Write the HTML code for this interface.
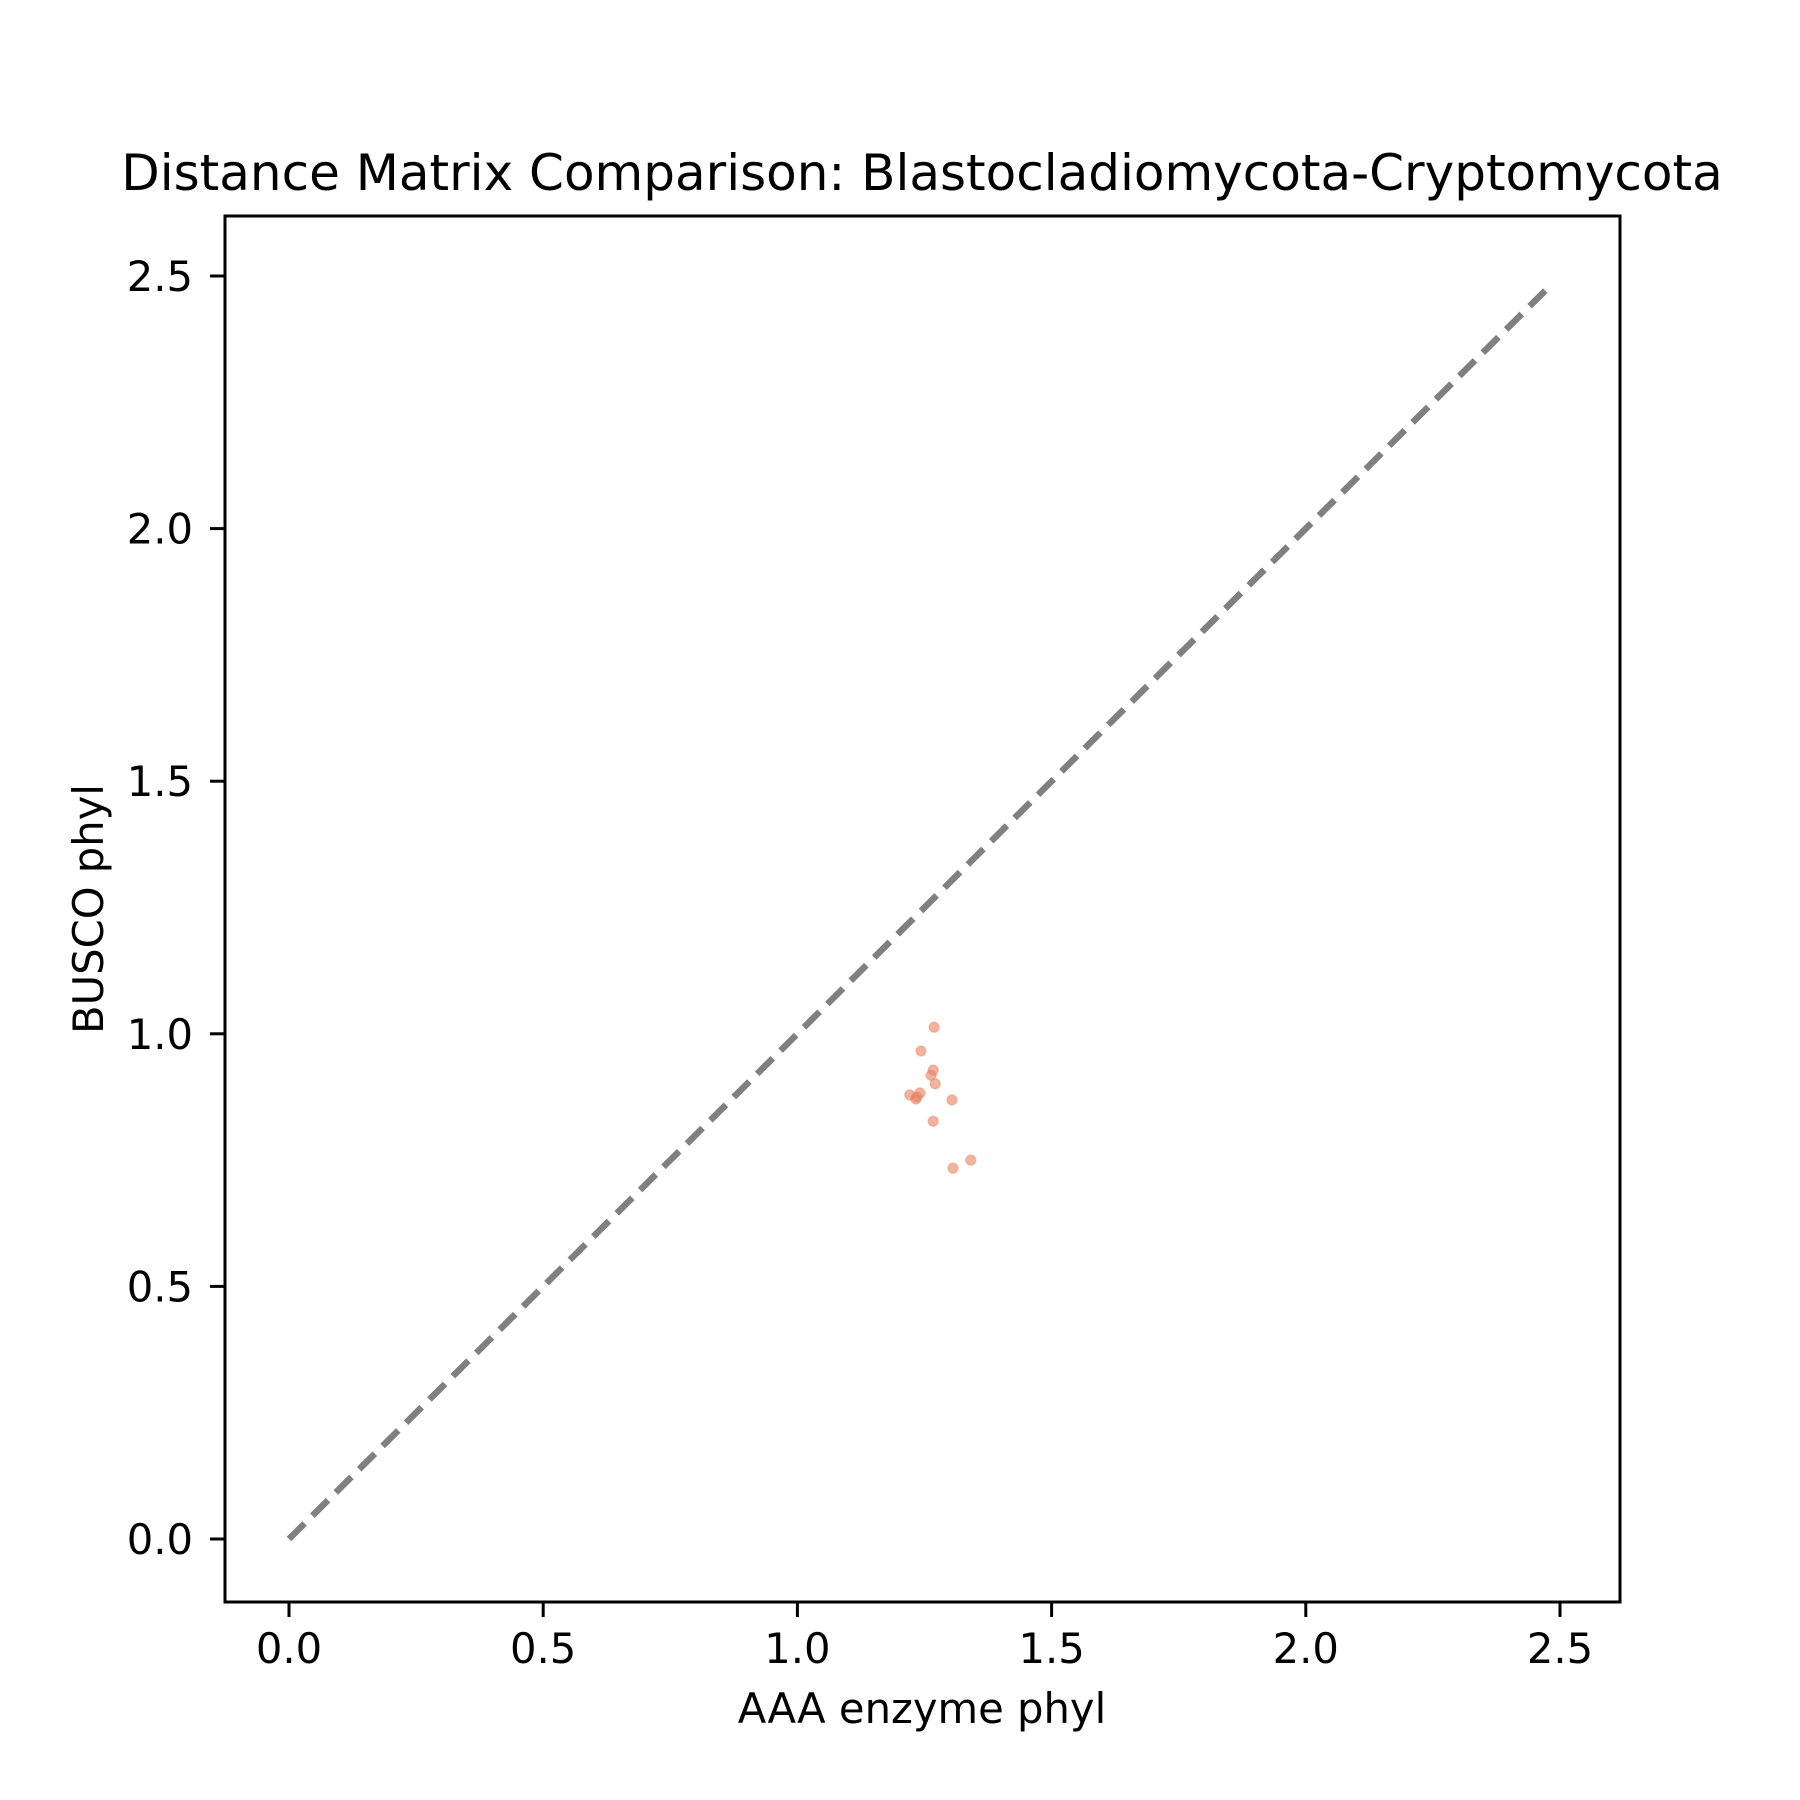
<!DOCTYPE html>
<html><head><meta charset="utf-8"><style>html,body{margin:0;padding:0;background:#fff}svg{display:block}</style></head>
<body>
<svg id="chart" width="1800" height="1800" viewBox="0 0 1800 1800" xmlns="http://www.w3.org/2000/svg" font-family="'DejaVu Sans','Liberation Sans',sans-serif">
<rect width="1800" height="1800" fill="#fff"/>
<text x="922" y="190" font-size="50" text-anchor="middle">Distance Matrix Comparison: Blastocladiomycota-Cryptomycota</text>
<g id="plot"></g>
<rect x="225" y="216" width="1395" height="1386" fill="none" stroke="#000" stroke-width="3"/>
<g id="xticks"></g>
<g id="yticks"></g>
<text x="922" y="1723" font-size="41.7" text-anchor="middle">AAA enzyme phyl</text>
<text transform="translate(103,909) rotate(-90)" font-size="41.7" text-anchor="middle">BUSCO phyl</text>
</svg>
<script>
const xValues = [1.269,1.243,1.267,1.263,1.271,1.221,1.241,1.233,1.235,1.304,1.267,1.341,1.306];
const yValues = [1.013,0.966,0.928,0.918,0.901,0.879,0.883,0.871,0.875,0.869,0.827,0.750,0.734];
const xTicks = [0,0.5,1,1.5,2,2.5];
const yTicks = [0,0.5,1,1.5,2,2.5];
const xTickLabels = ["0.0","0.5","1.0","1.5","2.0","2.5"];
const yTickLabels = ["0.0","0.5","1.0","1.5","2.0","2.5"];
const diagRange = [0,2.482];

const NS="http://www.w3.org/2000/svg";
function sx(v){return 289+v*508.4;}
function sy(v){return 1539-v*505.2;}
function mk(tag,attrs,parent){const e=document.createElementNS(NS,tag);for(const k in attrs)e.setAttribute(k,attrs[k]);parent.appendChild(e);return e;}
const plot=document.getElementById('plot');
const diag=mk('line',{x1:sx(diagRange[0]),y1:sy(diagRange[0]),x2:sx(diagRange[1]),y2:sy(diagRange[1]),stroke:'#808080','stroke-width':6.5,'stroke-dasharray':'22 11'},plot);


xValues.forEach((x,i)=>{
  const c=mk('circle',{cx:sx(x),cy:sy(yValues[i]),r:5,fill:'rgb(233,128,96)','fill-opacity':0.6,stroke:'rgb(233,128,96)','stroke-opacity':0.4,'stroke-width':1.5},plot);
  
  
});
const xg=document.getElementById('xticks');
xTicks.forEach((t,i)=>{
  const l=mk('line',{x1:sx(t),x2:sx(t),y1:1602,y2:1617,stroke:'#000','stroke-width':3},xg);
  
  
  const tx=mk('text',{x:sx(t),y:1663,'font-size':41.7,'text-anchor':'middle'},xg);
  tx.textContent=xTickLabels[i];
  
  
});
const yg=document.getElementById('yticks');
yTicks.forEach((t,i)=>{
  const l=mk('line',{x1:210,x2:225,y1:sy(t),y2:sy(t),stroke:'#000','stroke-width':3},yg);
  
  
  const tx=mk('text',{x:193,y:sy(t)+15,'font-size':41.7,'text-anchor':'end'},yg);
  tx.textContent=yTickLabels[i];
  
  
});
</script>
</body></html>
